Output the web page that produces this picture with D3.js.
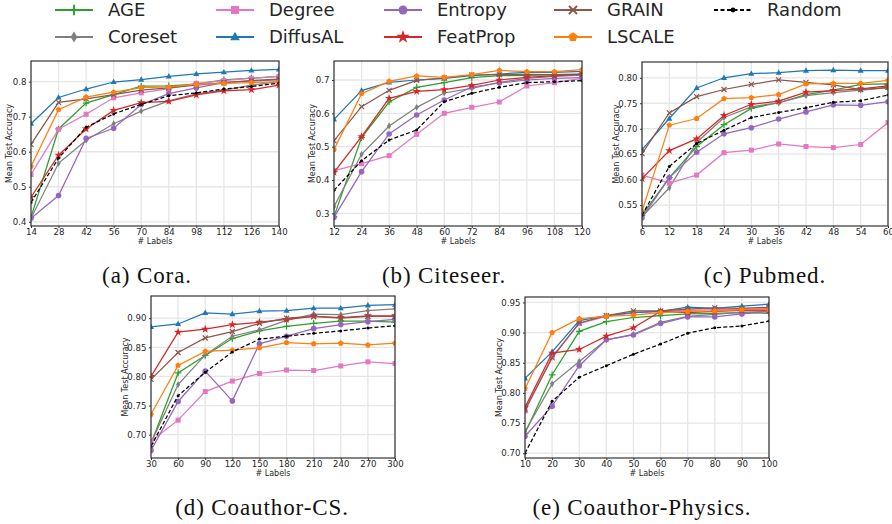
<!DOCTYPE html>
<html>
<head>
<meta charset="utf-8">
<script src="https://cdn.jsdelivr.net/npm/d3@7"></script>
<style>
body { margin: 0; background: #fff; }
svg { display: block; font-family: "DejaVu Sans", sans-serif; }
</style>
</head>
<body>
<div class="chart"></div>
<script>
// methods, in plotting / legend order
let methods = ["AGE", "Coreset", "Degree", "DiffusAL", "Entropy", "FeatProp", "GRAIN", "LSCALE", "Random"];
let colors = ["#2ca02c", "#7f7f7f", "#e377c2", "#1f77b4", "#9467bd", "#d62728", "#8c564b", "#ff7f0e", "#000000"];
let markers = ["plus", "thinDiamond", "square", "triangle", "circle", "star", "x", "pentagon", "dot"];

// Cora
let coraLabels = [14, 28, 42, 56, 70, 84, 98, 112, 126, 140];
let coraAcc = [
  [0.413, 0.665, 0.739, 0.763, 0.787, 0.788, 0.793, 0.805, 0.810, 0.815],
  [0.410, 0.567, 0.633, 0.680, 0.716, 0.745, 0.765, 0.776, 0.790, 0.800],
  [0.535, 0.664, 0.707, 0.754, 0.768, 0.780, 0.795, 0.803, 0.810, 0.815],
  [0.680, 0.755, 0.779, 0.799, 0.806, 0.815, 0.822, 0.827, 0.832, 0.835],
  [0.410, 0.475, 0.638, 0.667, 0.735, 0.766, 0.782, 0.797, 0.802, 0.805],
  [0.470, 0.590, 0.665, 0.718, 0.740, 0.744, 0.762, 0.774, 0.777, 0.790],
  [0.621, 0.741, 0.751, 0.763, 0.776, 0.782, 0.790, 0.797, 0.803, 0.807],
  [0.558, 0.720, 0.756, 0.770, 0.783, 0.785, 0.792, 0.795, 0.797, 0.800],
  [0.455, 0.582, 0.670, 0.708, 0.735, 0.760, 0.768, 0.779, 0.786, 0.796]
];

// Citeseer
let citeseerLabels = [12, 24, 36, 48, 60, 72, 84, 96, 108, 120];
let citeseerAcc = [
  [0.290, 0.527, 0.634, 0.678, 0.692, 0.707, 0.713, 0.714, 0.716, 0.717],
  [0.320, 0.477, 0.562, 0.618, 0.661, 0.675, 0.693, 0.705, 0.711, 0.715],
  [0.428, 0.449, 0.473, 0.537, 0.600, 0.618, 0.634, 0.682, 0.692, 0.705],
  [0.582, 0.668, 0.693, 0.700, 0.705, 0.713, 0.718, 0.723, 0.723, 0.726],
  [0.288, 0.425, 0.538, 0.595, 0.640, 0.679, 0.691, 0.700, 0.705, 0.707],
  [0.423, 0.530, 0.645, 0.666, 0.671, 0.684, 0.700, 0.708, 0.713, 0.717],
  [0.518, 0.620, 0.669, 0.699, 0.706, 0.715, 0.716, 0.717, 0.716, 0.718],
  [0.491, 0.659, 0.696, 0.712, 0.708, 0.716, 0.729, 0.725, 0.725, 0.731],
  [0.369, 0.458, 0.520, 0.550, 0.635, 0.660, 0.678, 0.692, 0.695, 0.698]
];

// Pubmed
let pubmedLabels = [6, 12, 18, 24, 30, 36, 42, 48, 54, 60];
let pubmedAcc = [
  [0.530, 0.604, 0.665, 0.708, 0.740, 0.751, 0.767, 0.776, 0.787, 0.788],
  [0.527, 0.584, 0.673, 0.722, 0.743, 0.751, 0.765, 0.771, 0.776, 0.780],
  [0.609, 0.593, 0.609, 0.653, 0.658, 0.670, 0.665, 0.663, 0.669, 0.712],
  [0.659, 0.720, 0.780, 0.800, 0.808, 0.810, 0.814, 0.815, 0.814, 0.814],
  [0.525, 0.604, 0.654, 0.690, 0.702, 0.719, 0.733, 0.747, 0.746, 0.753],
  [0.602, 0.657, 0.680, 0.726, 0.748, 0.754, 0.772, 0.775, 0.778, 0.784],
  [0.651, 0.731, 0.763, 0.777, 0.787, 0.796, 0.791, 0.786, 0.777, 0.781],
  [0.538, 0.707, 0.720, 0.759, 0.761, 0.767, 0.788, 0.789, 0.789, 0.795],
  [0.530, 0.626, 0.671, 0.697, 0.722, 0.732, 0.741, 0.752, 0.755, 0.766]
];

// Coauthor-CS
let csLabels = [30, 60, 90, 120, 150, 180, 210, 240, 270, 300];
let csAcc = [
  [0.685, 0.806, 0.836, 0.865, 0.878, 0.886, 0.891, 0.895, 0.895, 0.893],
  [0.686, 0.786, 0.837, 0.869, 0.880, 0.896, 0.907, 0.906, 0.913, 0.916],
  [0.689, 0.725, 0.774, 0.792, 0.805, 0.811, 0.810, 0.818, 0.825, 0.822],
  [0.885, 0.890, 0.909, 0.907, 0.912, 0.913, 0.917, 0.917, 0.922, 0.923],
  [0.673, 0.757, 0.809, 0.758, 0.856, 0.869, 0.882, 0.889, 0.894, 0.898],
  [0.800, 0.876, 0.881, 0.889, 0.893, 0.898, 0.903, 0.901, 0.904, 0.904],
  [0.795, 0.841, 0.866, 0.877, 0.891, 0.900, 0.903, 0.900, 0.903, 0.903],
  [0.735, 0.819, 0.843, 0.845, 0.849, 0.858, 0.856, 0.857, 0.854, 0.857],
  [0.680, 0.767, 0.807, 0.842, 0.864, 0.869, 0.874, 0.878, 0.883, 0.887]
];

// Coauthor-Physics
let physicsLabels = [10, 20, 30, 40, 50, 60, 70, 80, 90, 100];
let physicsAcc = [
  [0.733, 0.830, 0.902, 0.918, 0.925, 0.928, 0.931, 0.932, 0.933, 0.932],
  [0.736, 0.815, 0.852, 0.888, 0.897, 0.917, 0.927, 0.930, 0.934, 0.935],
  [0.770, 0.860, 0.915, 0.927, 0.933, 0.935, 0.937, 0.938, 0.939, 0.940],
  [0.824, 0.868, 0.920, 0.928, 0.933, 0.935, 0.942, 0.940, 0.944, 0.947],
  [0.728, 0.778, 0.845, 0.888, 0.896, 0.915, 0.926, 0.926, 0.931, 0.935],
  [0.776, 0.866, 0.872, 0.894, 0.908, 0.935, 0.933, 0.935, 0.937, 0.937],
  [0.772, 0.858, 0.916, 0.928, 0.936, 0.936, 0.939, 0.941, 0.940, 0.942],
  [0.807, 0.900, 0.923, 0.927, 0.929, 0.933, 0.935, 0.936, 0.938, 0.938],
  [0.700, 0.786, 0.826, 0.845, 0.864, 0.881, 0.899, 0.908, 0.911, 0.919]
];

let coraTicks = [0.4, 0.5, 0.6, 0.7, 0.8];
let citeseerTicks = [0.3, 0.4, 0.5, 0.6, 0.7];
let pubmedTicks = [0.55, 0.60, 0.65, 0.70, 0.75, 0.80];
let csTicks = [0.70, 0.75, 0.80, 0.85, 0.90];
let physicsTicks = [0.70, 0.75, 0.80, 0.85, 0.90, 0.95];

// panel layout
let panels = [
  {labels: coraLabels, acc: coraAcc, ticks: coraTicks, fmt: ".1f", dom: [0.388, 0.859],
   left: 31, right: 279, top: 61, bottom: 226, caption: "(a) Cora.", cx: 147, ylx: 9},
  {labels: citeseerLabels, acc: citeseerAcc, ticks: citeseerTicks, fmt: ".1f", dom: [0.262, 0.757],
   left: 334, right: 582, top: 61, bottom: 226, caption: "(b) Citeseer.", cx: 444, ylx: 312},
  {labels: pubmedLabels, acc: pubmedAcc, ticks: pubmedTicks, fmt: ".2f", dom: [0.509, 0.831],
   left: 642, right: 888, top: 62, bottom: 226, caption: "(c) Pubmed.", cx: 765, ylx: 616},
  {labels: csLabels, acc: csAcc, ticks: csTicks, fmt: ".2f", dom: [0.660, 0.938],
   left: 151, right: 395, top: 296, bottom: 458, caption: "(d) Coauthor-CS.", cx: 262, ylx: 125},
  {labels: physicsLabels, acc: physicsAcc, ticks: physicsTicks, fmt: ".2f", dom: [0.692, 0.959],
   left: 525, right: 769, top: 297, bottom: 458, caption: "(e) Coauthor-Physics.", cx: 642, ylx: 499}
];

let svgWidth = 892;
let svgHeight = 524;
let textColor = "#262626";

let svg = d3.select(".chart")
  .append("svg")
  .attr("width", svgWidth)
  .attr("height", svgHeight);

function drawMarker(g, type, color, s) {
  switch (type) {
    case "plus":
      g.append("path").attr("d", `M${-3.3*s},0H${3.3*s}M0,${-3.3*s}V${3.3*s}`)
        .attr("stroke", color).attr("stroke-width", 1.2 * s).attr("fill", "none");
      break;
    case "thinDiamond":
      g.append("path").attr("d", `M0,${-3.4*s}L${2.1*s},0L0,${3.4*s}L${-2.1*s},0Z`).attr("fill", color);
      break;
    case "square":
      g.append("rect").attr("x", -2.5 * s).attr("y", -2.5 * s)
        .attr("width", 5 * s).attr("height", 5 * s).attr("fill", color);
      break;
    case "triangle":
      g.append("path").attr("d", `M0,${-3.3*s}L${3*s},${2.1*s}L${-3*s},${2.1*s}Z`).attr("fill", color);
      break;
    case "circle":
      g.append("circle").attr("r", 2.8 * s).attr("fill", color);
      break;
    case "star":
      g.append("path").attr("d", d3.symbol(d3.symbolStar, 22 * s * s)()).attr("fill", color);
      break;
    case "x":
      g.append("path").attr("d", `M${-2.5*s},${-2.5*s}L${2.5*s},${2.5*s}M${-2.5*s},${2.5*s}L${2.5*s},${-2.5*s}`)
        .attr("stroke", color).attr("stroke-width", 1.2 * s).attr("fill", "none");
      break;
    case "pentagon": {
      let pts = d3.range(5).map(function(i) {
        let a = -Math.PI / 2 + i * 2 * Math.PI / 5;
        return [3 * s * Math.cos(a), 3 * s * Math.sin(a)];
      });
      g.append("path").attr("d", "M" + pts.join("L") + "Z").attr("fill", color);
      break;
    }
    case "dot":
      g.append("circle").attr("r", 1.5 * s).attr("fill", color);
      break;
  }
}

panels.forEach(function(p, pi) {
  let x = d3.scaleLinear().domain([p.labels[0], p.labels[p.labels.length - 1]]).range([p.left, p.right]);
  let y = d3.scaleLinear().domain(p.dom).range([p.bottom, p.top]);

  let g = svg.append("g");

  // grid
  g.append("g").selectAll("line").data(p.labels).enter().append("line")
    .attr("x1", function(d) { return x(d); }).attr("x2", function(d) { return x(d); })
    .attr("y1", p.top).attr("y2", p.bottom)
    .attr("stroke", "#e6e6e6").attr("stroke-width", 1.3);
  g.append("g").selectAll("line").data(p.ticks).enter().append("line")
    .attr("x1", p.left).attr("x2", p.right)
    .attr("y1", function(d) { return y(d); }).attr("y2", function(d) { return y(d); })
    .attr("stroke", "#e6e6e6").attr("stroke-width", 1.3);

  let clipId = "clip" + pi;
  svg.append("clipPath").attr("id", clipId).append("rect")
    .attr("x", p.left).attr("y", p.top)
    .attr("width", p.right - p.left).attr("height", p.bottom - p.top);

  let plot = g.append("g").attr("clip-path", `url(#${clipId})`);
  let line = d3.line()
    .x(function(d, i) { return x(p.labels[i]); })
    .y(function(d) { return y(d); });

  p.acc.forEach(function(vals, mi) {
    let isRandom = methods[mi] === "Random";
    plot.append("path")
      .attr("d", line(vals))
      .attr("fill", "none")
      .attr("stroke", colors[mi])
      .attr("stroke-width", 1.25)
      .attr("stroke-dasharray", isRandom ? "4,2.2" : null);
    vals.forEach(function(v, i) {
      let mg = plot.append("g").attr("transform", `translate(${x(p.labels[i])},${y(v)})`);
      drawMarker(mg, markers[mi], colors[mi], 1);
    });
  });

  // axes
  let xAxis = d3.axisBottom(x).tickValues(p.labels).tickSize(2).tickPadding(1);
  let yAxis = d3.axisLeft(y).tickValues(p.ticks).tickFormat(d3.format(p.fmt)).tickSize(2).tickPadding(2.5);

  let gx = g.append("g").attr("transform", `translate(0,${p.bottom})`).call(xAxis);
  let gy = g.append("g").attr("transform", `translate(${p.left},0)`).call(yAxis);
  [gx, gy].forEach(function(ax) {
    ax.select(".domain").remove();
    ax.selectAll("line").attr("stroke", "#333").attr("stroke-width", 1);
    ax.selectAll("text").attr("fill", textColor).style("font-size", "8.6px")
      .style("font-family", "DejaVu Sans");
  });

  // frame
  g.append("rect")
    .attr("x", p.left).attr("y", p.top)
    .attr("width", p.right - p.left).attr("height", p.bottom - p.top)
    .attr("fill", "none").attr("stroke", "#333").attr("stroke-width", 1.2);

  // axis labels
  g.append("text")
    .attr("x", (p.left + p.right) / 2).attr("y", p.bottom + 18)
    .attr("text-anchor", "middle").attr("fill", textColor)
    .style("font-size", "8px")
    .text("# Labels");

  g.append("text")
    .attr("transform", `translate(${p.ylx},${(p.top + p.bottom) / 2}) rotate(-90)`)
    .attr("text-anchor", "middle").attr("dy", "0.35em").attr("fill", textColor)
    .style("font-size", "8px")
    .text("Mean Test Accuracy");

  // caption
  g.append("text")
    .attr("x", p.cx).attr("y", p.bottom + 57)
    .attr("text-anchor", "middle").attr("fill", "#111")
    .style("font-family", "Liberation Serif, serif")
    .style("font-size", "23px")
    .style("letter-spacing", "0.9px")
    .text(p.caption);
});

// legend
let legendCols = [55, 216, 384, 554, 714];
let legendRows = [10, 37];
let legend = svg.append("g");
methods.forEach(function(m, i) {
  let col = Math.floor(i / 2);
  let row = i % 2;
  let item = legend.append("g").attr("transform", `translate(${legendCols[col]},${legendRows[row]})`);
  item.append("line")
    .attr("x1", 0).attr("x2", 38).attr("y1", 0).attr("y2", 0)
    .attr("stroke", colors[i]).attr("stroke-width", 1.8)
    .attr("stroke-dasharray", m === "Random" ? "4,2.5" : null);
  let mg = item.append("g").attr("transform", "translate(19,0)");
  drawMarker(mg, markers[i], colors[i], 1.6);
  item.append("text")
    .attr("x", 53).attr("y", 0).attr("dy", "0.36em")
    .attr("fill", textColor)
    .style("font-size", "18px")
    .text(m);
});
</script>
</body>
</html>
